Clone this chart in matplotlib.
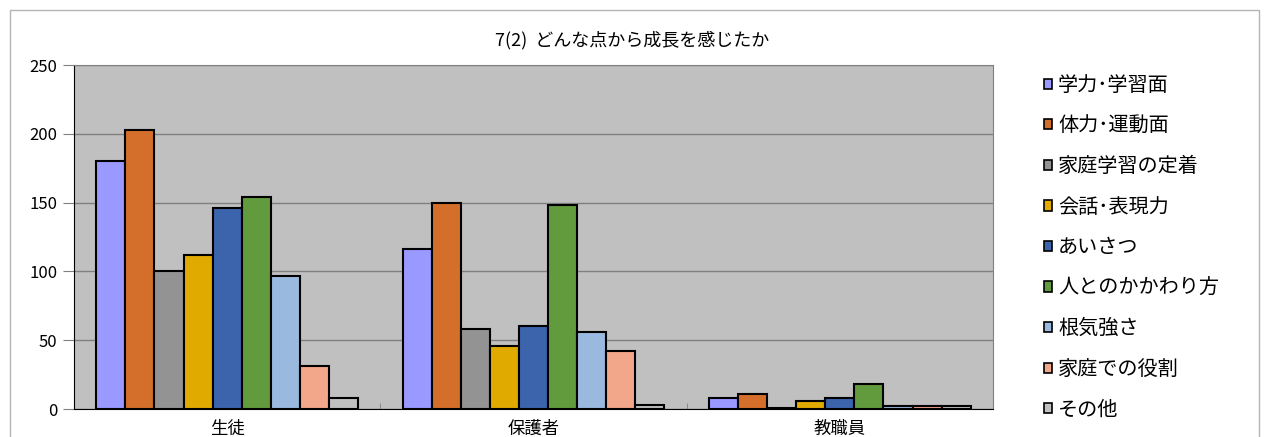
import matplotlib.pyplot as plt
import matplotlib.patches as mpatches
import numpy as np

plt.rcParams['font.family'] = ['Noto Sans CJK JP', 'DejaVu Sans']

groups = ['生徒', '保護者', '教職員']
items = ['学力･学習面', '体力･運動面', '家庭学習の定着', '会話･表現力', 'あいさつ',
         '人とのかかわり方', '根気強さ', '家庭での役割', 'その他']
students = [180, 203, 100, 112, 146, 154, 97, 31, 8]
parents = [116, 150, 58, 46, 60, 148, 56, 42, 3]
staff = [8, 11, 1, 6, 8, 18, 2, 2, 2]
colors = ['#9999FF', '#D46F2B', '#939393', '#E0AA00', '#3C64AC',
          '#629A3E', '#99B9DF', '#F2A78A', '#C0C0C0']

values = np.array([students, parents, staff])  # rows = groups

fig = plt.figure(figsize=(12.66, 4.37), dpi=100)
# outer chart border
fig.patches.append(mpatches.Rectangle((10 / 1266, -0.1), 1249 / 1266, 1.1 - 10 / 437,
                                      transform=fig.transFigure, fill=False,
                                      edgecolor='#B4B4B4', linewidth=1))

ax = fig.add_axes([74 / 1266, 1 - 409 / 437, 919 / 1266, 344 / 437])
ax.set_facecolor('#C0C0C0')

n = len(items)
width = 0.855 / n
x = np.arange(len(groups))
for i in range(n):
    ax.bar(x - 0.4275 + width * (i + 0.5), values[:, i], width, color=colors[i],
           edgecolor='black', linewidth=1.5, label=items[i], zorder=3)

ax.set_xlim(-0.5, 2.5)
ax.set_ylim(0, 250)
ax.set_yticks(range(0, 251, 50))
ax.yaxis.grid(True, color='#808080', linewidth=1, zorder=0)
ax.set_xticks(x)
ax.set_xticklabels(groups, fontsize=12.5)
ax.set_xticks([0.5, 1.5], minor=True)
ax.tick_params(axis='x', which='major', length=0, pad=8)
ax.tick_params(axis='x', which='minor', direction='in', length=4, color='#808080')
ax.tick_params(axis='y', length=8, color='#808080', labelsize=12, pad=4)
for side in ['left', 'bottom']:
    ax.spines[side].set_color('black')
for side in ['top', 'right']:
    ax.spines[side].set_color('#808080')

fig.text(632 / 1266, 1 - 40 / 437, '7(2)  どんな点から成長を感じたか', ha='center',
         va='center', fontsize=13)

handles = [mpatches.Patch(facecolor=c, edgecolor='black', linewidth=1.2) for c in colors]
fig.legend(handles, items, loc='upper left', bbox_to_anchor=(1036 / 1266, 1 - 67 / 437),
           frameon=False, fontsize=14.5, handlelength=0.4, handleheight=0.4,
           handletextpad=0.3, labelspacing=0.97, borderaxespad=0)

fig.savefig('out.png', dpi=100)
